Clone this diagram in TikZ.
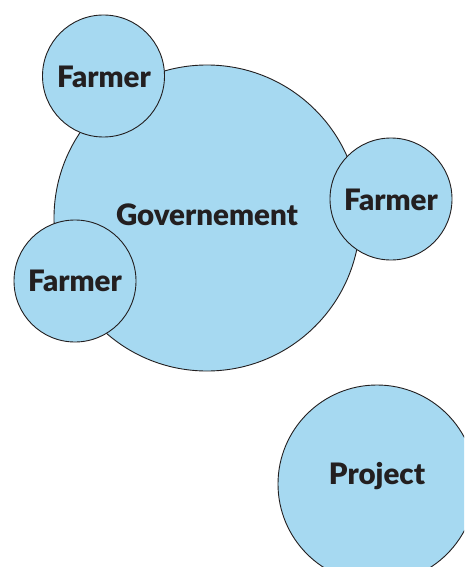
\documentclass[tikz,border=0pt]{standalone}
\usepackage{fontspec}
\setmainfont{Lato}[BoldFont={Lato Black}]
\definecolor{fillblue}{HTML}{A6D9F1}
\definecolor{ink}{HTML}{231F20}
\begin{document}
\begin{tikzpicture}[x=1pt,y=-1pt,
  bubble/.style={circle,draw=ink,fill=fillblue,line width=0.9pt,inner sep=0pt},
  lbl/.style={text=ink,font=\fontsize{29.5}{29.5}\selectfont\bfseries}]
\useasboundingbox (0,0) rectangle (464,567);
\begin{scope}
\clip (0,0) rectangle (464,567);
\node[bubble,minimum size=306pt] (gov) at (207,218) {};
\node[bubble,minimum size=122pt] (f1) at (103.5,76) {};
\node[bubble,minimum size=122pt] (f2) at (391,199) {};
\node[bubble,minimum size=122pt] (f3) at (75,281) {};
\node[bubble,minimum size=198pt] (proj) at (377,484) {};
\end{scope}
\node[lbl] at (207,215) {Governement};
\node[lbl] at (104,77) {Farmer};
\node[lbl] at (391,200) {Farmer};
\node[lbl] at (75,281) {Farmer};
\node[lbl] at (377,476) {Project};
\end{tikzpicture}
\end{document}
